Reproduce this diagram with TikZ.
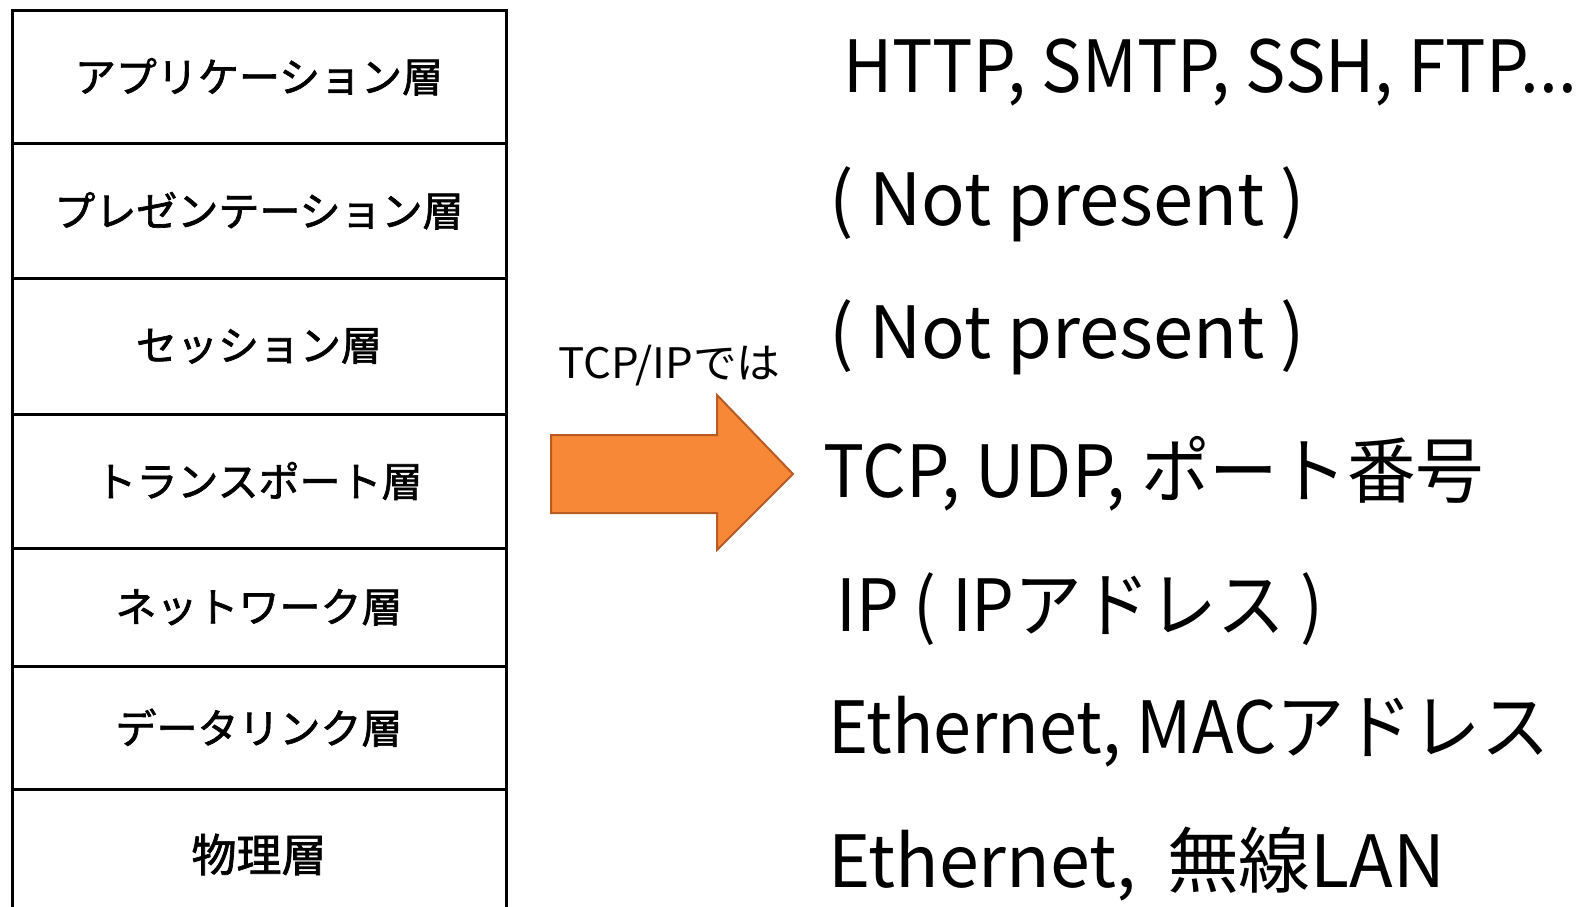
\documentclass[tikz,border=0pt]{standalone}
\usepackage{fontspec}
\setmainfont{Noto Sans CJK JP}
\newfontfamily\layerfont[FakeBold=1.6]{Noto Sans CJK JP}
\usepackage{graphicx}
\definecolor{arrowfill}{RGB}{247,136,56}
\definecolor{arrowline}{RGB}{184,90,34}
\tikzset{
  layer/.style={draw=black, line width=3pt, rectangle, minimum width=494pt, inner sep=0pt, font=\layerfont\fontsize{41pt}{41pt}\selectfont},
  rtext/.style={anchor=base west, inner sep=0pt, font=\fontsize{72pt}{72pt}\selectfont},
  arrowshape/.style={draw=arrowline, fill=arrowfill, line width=2pt, line join=miter},
  midlabel/.style={anchor=base, inner sep=0pt, font=\fontsize{42pt}{42pt}\selectfont}
}
\begin{document}
\begin{tikzpicture}[x=1pt, y=-1pt]
\useasboundingbox (0,0) rectangle (1583,906);
% OSI layer column
\node[layer, minimum height=133.5pt] (l1) at (259,76.75) {\raisebox{-1pt}{アプリケーション層}};
\node[layer, minimum height=134.5pt] (l2) at (259,210.75) {\raisebox{-1pt}{プレゼンテーション層}};
\node[layer, minimum height=136pt] (l3) at (259,346) {セッション層};
\node[layer, minimum height=134pt] (l4) at (259,481) {トランスポート層};
\node[layer, minimum height=118.5pt] (l5) at (259,607.25) {ネットワーク層};
\node[layer, minimum height=122.5pt] (l6) at (259,727.75) {データリンク層};
\node[layer, minimum height=131pt] (l7) at (259,854.5) {\raisebox{3pt}{\fontsize{45pt}{45pt}\selectfont 物理層}};
% label and arrow
\node[midlabel] (lbl) at (669.5,378) {\resizebox{222pt}{\height}{TCP/IPでは}};
\draw[arrowshape] (551,435) -- (717,435) -- (717,395) -- (793,474) -- (717,550) -- (717,513) -- (551,513) -- cycle;
% TCP/IP column
\node[rtext] (r1) at (843,92) {\resizebox{734pt}{\height}{HTTP, SMTP, SSH, FTP...}};
\node[rtext] (r2) at (829,225) {\resizebox{476pt}{\height}{( Not present )}};
\node[rtext] (r3) at (829,358) {\resizebox{476pt}{\height}{( Not present )}};
\node[rtext] (r4) at (823,497) {\resizebox{661pt}{\height}{TCP, UDP, ポート番号}};
\node[rtext] (r5) at (836,631) {\resizebox{487pt}{\height}{IP ( IPアドレス )}};
\node[rtext] (r6) at (828,753) {\resizebox{721pt}{\height}{Ethernet, MACアドレス}};
\node[rtext] (r7) at (828,887) {\resizebox{617pt}{\height}{Ethernet,\hspace{0.2em} 無線LAN}};
\end{tikzpicture}
\end{document}
